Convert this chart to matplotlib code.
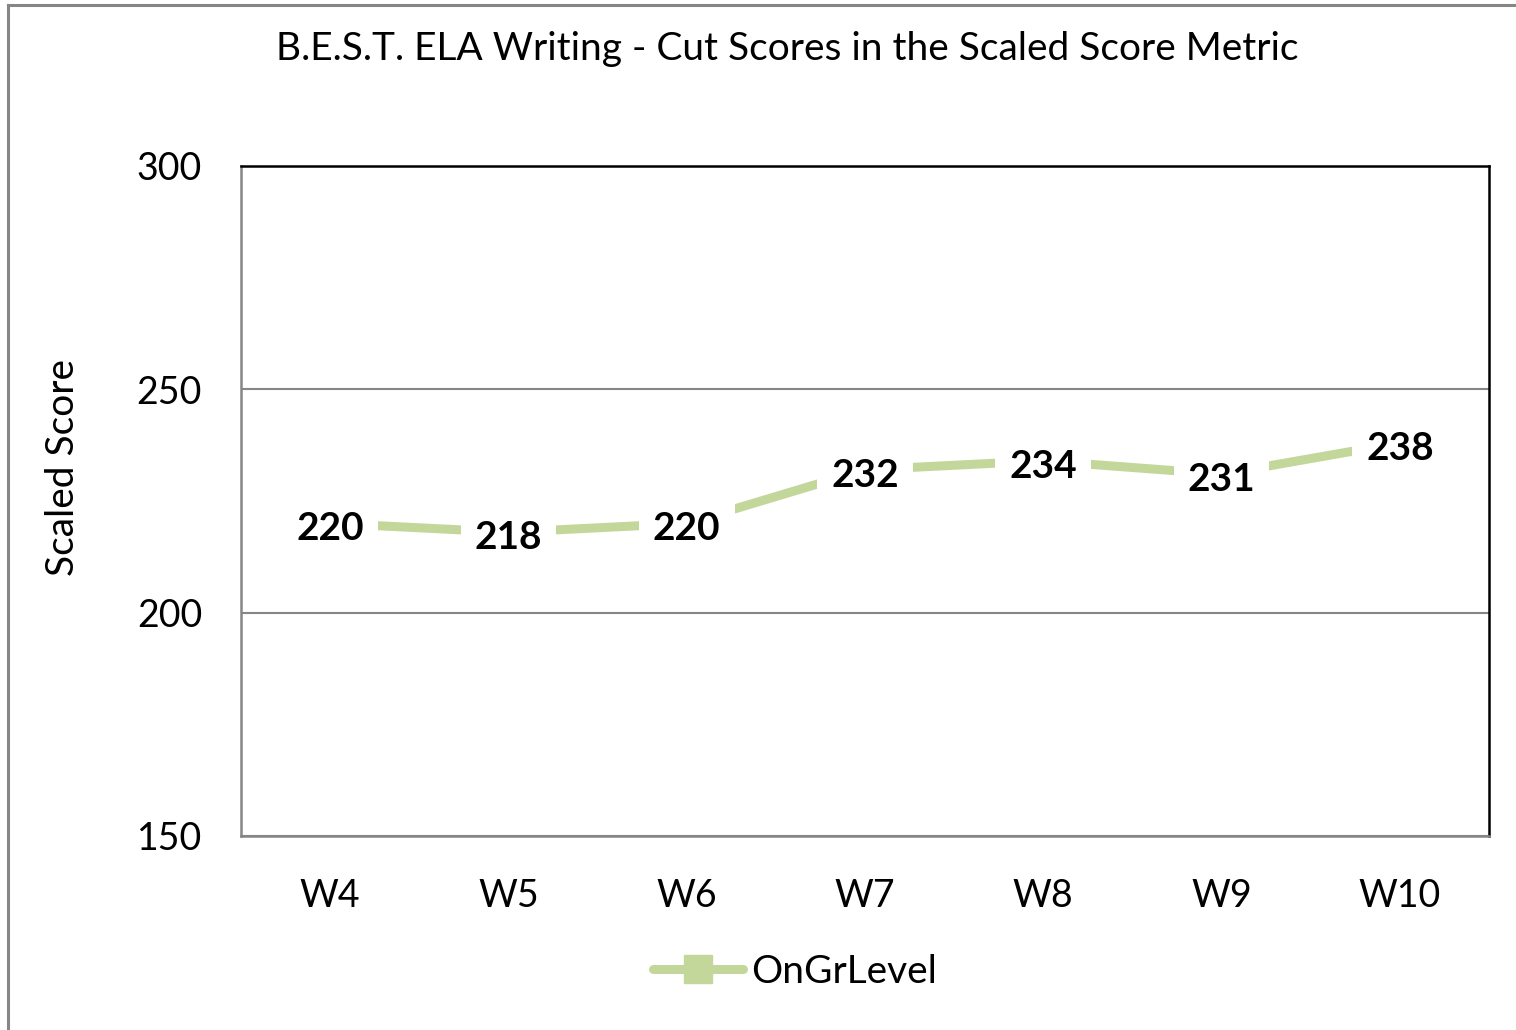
import matplotlib
matplotlib.use("Agg")
import matplotlib.pyplot as plt
from matplotlib.lines import Line2D

plt.rcParams["font.family"] = ["Lato", "DejaVu Sans"]

grades = ["W4", "W5", "W6", "W7", "W8", "W9", "W10"]
on_gr_level = [220, 218, 220, 232, 234, 231, 238]
y_ticks = [150, 200, 250, 300]

green = "#C4D79B"
gray = "#868686"

fig = plt.figure(figsize=(15.16, 10.30), dpi=100)
W, H = 1516, 1030

# outer chart border (left and top only visible)
fig.add_artist(Line2D([8 / W, 8 / W], [0, 1 - 5 / H], color=gray, lw=2.2))
fig.add_artist(Line2D([8 / W, 1], [1 - 5 / H, 1 - 5 / H], color=gray, lw=2.2))

ax = fig.add_axes([241 / W, 1 - 836 / H, 1248 / W, 670 / H])

x = [i + 0.5 for i in range(len(grades))]
ax.plot(x, on_gr_level, color=green, lw=6.5, marker="s", markersize=14,
        solid_capstyle="round", label="OnGrLevel", zorder=2)

for xi, v in zip(x, on_gr_level):
    ax.annotate(str(v), (xi, v), xytext=(0, -4), textcoords="offset points",
                ha="center", va="center", fontsize=28, fontweight="bold", zorder=3,
                bbox=dict(boxstyle="square,pad=0.36", fc="white", ec="none"))

ax.set_xlim(0, len(grades))
ax.set_ylim(150, 300)
ax.set_yticks(y_ticks)
ax.set_xticks(x)
ax.set_xticklabels(grades)
ax.tick_params(axis="both", length=0, labelsize=27)
ax.tick_params(axis="y", pad=28)
ax.tick_params(axis="x", pad=30)
ax.yaxis.grid(True, color=gray, lw=1.5)
ax.set_axisbelow(True)

ax.spines["top"].set_color("black")
ax.spines["right"].set_color("black")
ax.spines["top"].set_linewidth(1.8)
ax.spines["right"].set_linewidth(1.8)
ax.spines["left"].set_color(gray)
ax.spines["bottom"].set_color(gray)
ax.spines["left"].set_linewidth(1.8)
ax.spines["bottom"].set_linewidth(1.8)

fig.text(787 / W, 1 - 49 / H, "B.E.S.T. ELA Writing - Cut Scores in the Scaled Score Metric",
         ha="center", va="center", fontsize=28)
fig.text(63 / W, 1 - 468 / H, "Scaled Score", ha="center", va="center", rotation=90, fontsize=28)

fig.legend(loc="center", bbox_to_anchor=(795 / W, 1 - 972 / H), frameon=False,
           fontsize=28, handlelength=2.3, handletextpad=0.2, markerscale=1.4)

fig.savefig("out.png", dpi=100)
